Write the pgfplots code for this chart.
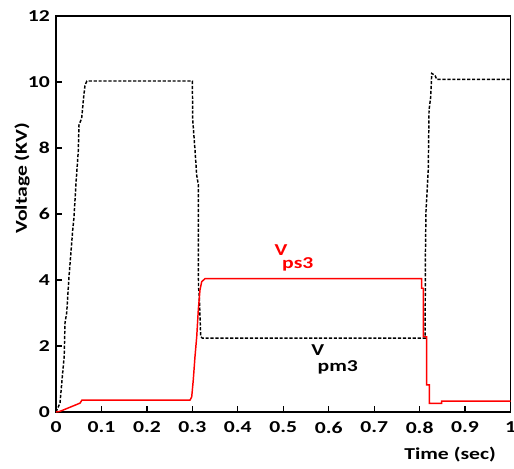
\documentclass[border=0pt]{standalone}
\usepackage{fontspec}
\setmainfont{Carlito}[FakeStretch=1.3]
\usepackage{pgfplots}
\pgfplotsset{compat=1.18}

\begin{document}
\begin{tikzpicture}
\begin{axis}[
  name=ax,
  scale only axis, width=340.9pt, height=297pt,
  xmin=0, xmax=1, ymin=0, ymax=12,
  xtick={0,0.1,...,1.0},
  xticklabels={0,0.1,0.2,0.3,0.4,0.5,0.6,0.7,0.8,0.9,1},
  ytick={0,2,4,6,8,10,12},
  tick pos=left, tick align=inside,
  major tick length=4.5pt,
  axis line style={line width=1.2pt},
  every tick/.style={black, line width=0.9pt},
  tick label style={font=\fontsize{12.5}{14}\selectfont\bfseries},
  xticklabel style={yshift=-4pt},
  yticklabel style={xshift=-1pt},
  /pgf/number format/assume math mode=true,
  clip=false,
]
% V_pm3 (black dashed)
\addplot[black, line width=1.1pt, dash pattern=on 2.4pt off 1.3pt] coordinates {
  (0,0) (0.0088,0.27) (0.0139,1.07) (0.018,1.68) (0.0198,2.7) (0.0235,3.0)
  (0.0286,4.1) (0.0367,5.5) (0.0396,5.9) (0.044,6.94) (0.049,7.9)
  (0.0506,8.7) (0.0565,8.9) (0.0605,9.5) (0.0638,9.9) (0.068,10.03)
  (0.300,10.03) (0.3008,8.85) (0.3058,7.94) (0.3095,7.18) (0.313,6.9)
  (0.3135,3.8) (0.3153,3.5) (0.3184,2.28) (0.322,2.24)
  (0.812,2.24) (0.8125,3.8) (0.8128,4.8) (0.814,6.1) (0.819,7.33)
  (0.8207,9.15) (0.8244,9.55) (0.8266,10.26) (0.8339,10.2) (0.8376,10.08)
  (1,10.08)
};
% V_ps3 (red solid)
\addplot[red, line width=1.1pt] coordinates {
  (0,0) (0.0088,0.02) (0.053,0.27) (0.057,0.36)
  (0.2948,0.36) (0.2986,0.46) (0.302,0.97) (0.3058,1.68) (0.3096,2.28)
  (0.3131,3.1) (0.3168,3.7) (0.3206,3.95) (0.3278,4.04)
  (0.8046,4.04) (0.8046,3.75) (0.808,3.75) (0.808,2.28) (0.8156,2.28)
  (0.8156,0.82) (0.8213,0.82) (0.8213,0.26) (0.8486,0.26) (0.8486,0.33)
  (1,0.33)
};
\node[red, font=\fontsize{12.5}{14}\selectfont\bfseries] at (axis cs:0.495,4.91) {V};
\node[red, font=\fontsize{12.5}{14}\selectfont\bfseries] at (axis cs:0.532,4.48) {ps3};
\node[black, font=\fontsize{12.5}{14}\selectfont\bfseries] at (axis cs:0.576,1.88) {V};
\node[black, font=\fontsize{12.5}{14}\selectfont\bfseries] at (axis cs:0.620,1.36) {pm3};
\node[font=\fontsize{12.5}{14}\selectfont\bfseries] at ([yshift=-32pt]axis description cs:0.867,0) {Time (sec)};
\node[font=\fontsize{12.5}{14}\selectfont\bfseries, rotate=90] at ([xshift=-25.5pt]axis description cs:0,0.59) {Voltage (KV)};
\end{axis}
\pgfresetboundingbox
\path[use as bounding box] ([shift={(-42pt,-42pt)}]ax.south west) rectangle ([shift={(2.6pt,12pt)}]ax.north east);
\end{tikzpicture}
\end{document}
